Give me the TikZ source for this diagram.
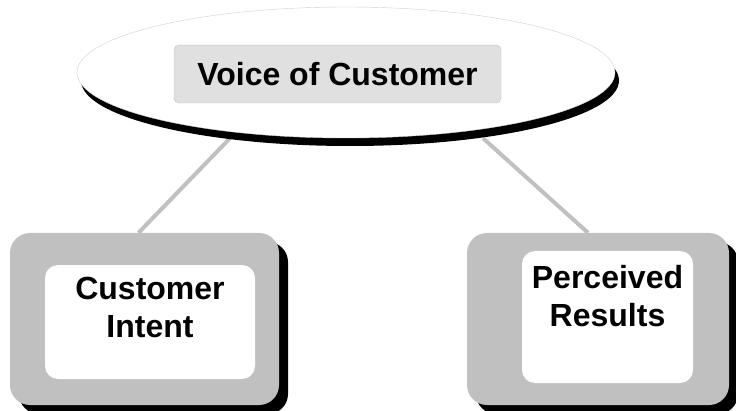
\documentclass[tikz,border=0pt]{standalone}
\usepackage{fontspec}
\setmainfont{Liberation Sans}
\usetikzlibrary{shapes.geometric,shadows,backgrounds}

\definecolor{boxgray}{HTML}{C0C0C0}
\definecolor{lightfill}{HTML}{E0E0E0}
\definecolor{rimgray}{HTML}{D0D0D0}

\tikzset{
  bigtext/.style={font=\fontsize{32}{38}\selectfont\bfseries, align=center, inner sep=0pt},
  outerbox/.style={rectangle, rounded corners=20pt, fill=boxgray, inner sep=0pt,
    general shadow={fill=black, shadow xshift=9pt, shadow yshift=-9pt}},
  innerbox/.style={rectangle, rounded corners=13pt, fill=white, inner sep=0pt},
  link/.style={draw=boxgray, line width=4pt}
}

\begin{document}
\begin{tikzpicture}[x=1pt, y=1pt]
  \useasboundingbox (0,0) rectangle (736,410);

  % Top ellipse
  \node[ellipse, draw=rimgray, fill=white, minimum width=538pt, minimum height=131pt,
    inner sep=0pt, general shadow={fill=black, shadow xshift=4pt, shadow yshift=-8pt}]
    (voc) at (346,337.5) {};
  \node[rectangle, rounded corners=5pt, draw=boxgray, fill=lightfill,
    minimum width=327pt, minimum height=58pt, bigtext] (vocbox) at (337.5,336) {Voice of Customer};

  % Left box
  \node[outerbox, minimum width=269pt, minimum height=172pt] (intent) at (144.5,91) {};
  \node[innerbox, minimum width=210pt, minimum height=114pt] (intentin) at (150,88) {};
  \node[bigtext, anchor=north] (intenttxt) at ([yshift=-12pt]intentin.north) {Customer\\Intent};

  % Right box
  \node[outerbox, minimum width=262pt, minimum height=172pt] (results) at (598,91) {};
  \node[innerbox, minimum width=171pt, minimum height=132pt] (resultsin) at (607.5,93) {};
  \node[bigtext, anchor=north] (resultstxt) at ([yshift=-14pt]resultsin.north) {Perceived\\Results};

  % Connectors
  \begin{scope}[on background layer]
    \draw[link] ([xshift=-116pt]voc.south) -- ([xshift=-6pt]intent.north);
    \draw[link] ([xshift=137pt]voc.south) -- ([xshift=-10pt]results.north);
  \end{scope}
\end{tikzpicture}
\end{document}
